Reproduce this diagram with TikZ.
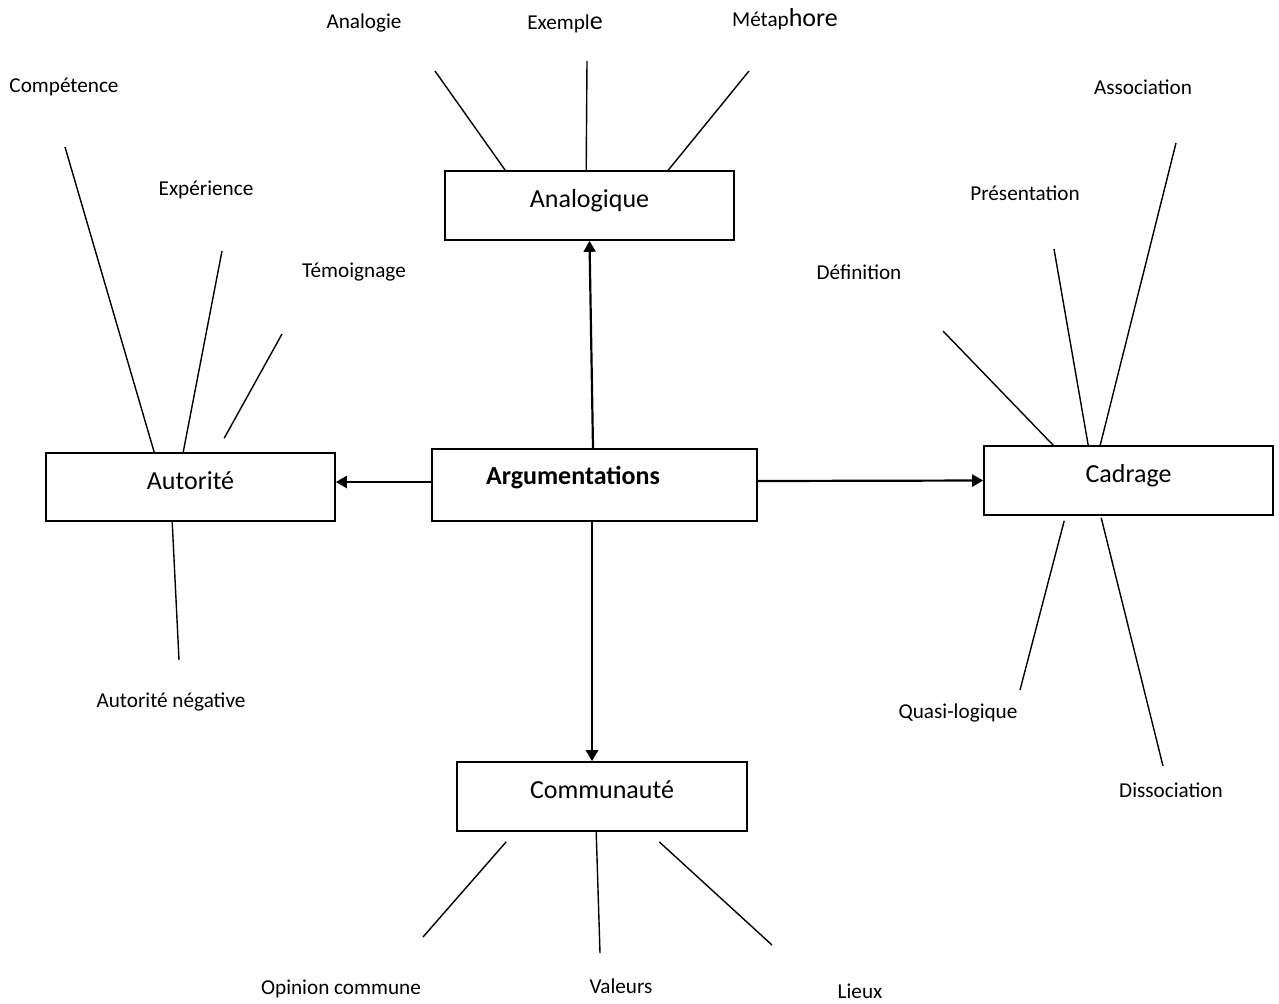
\documentclass[tikz,border=0pt]{standalone}
\usepackage{fontspec}
\setmainfont{Carlito}
\usetikzlibrary{arrows.meta,calc}

\tikzset{
  box/.style={draw, line width=0.8pt, minimum width=144.5pt, minimum height=34.5pt,
    inner sep=0pt, font=\fontsize{13}{15}\selectfont, text height=9pt, text depth=6.9pt},
  arr/.style={line width=1.1pt, -{Triangle[length=5.5pt,width=6pt]}},
  spoke/.style={line width=0.7pt},
  lbl/.style={font=\fontsize{10.6}{12}\selectfont, inner sep=0pt},
}
\newcommand{\bigger}[1]{{\fontsize{13}{15}\selectfont #1}}

\begin{document}
\begin{tikzpicture}[x=0.5pt,y=-0.5pt]
    \useasboundingbox (0,0) rectangle (1279,1003);

    % the five boxes
    \node[box, minimum width=162.5pt, minimum height=36pt, text height=8pt, text depth=8.9pt,
      font=\fontsize{13}{15}\selectfont\bfseries] (arg) at (594.5,485) {Argumentations\hspace*{21.5pt}};
    \node[box] (ana) at (589.5,205.5) {Analogique};
    \node[box, minimum height=34pt] (aut) at (190.5,487) {Autorité};
    \node[box] (cad) at (1128.5,480.5) {Cadrage};
    \node[box, minimum width=145pt] (com) at (602,796.5) {Communauté};

    % arrows out of the centre box
    \draw[arr] ([xshift=-0.75pt]arg.north) -- (ana.south);
    \draw[arr] ([yshift=1.5pt]arg.west) -- ([yshift=2.5pt]aut.east);
    \draw[arr] ([yshift=2pt]arg.east) -- (cad.west);
    \draw[arr] ([xshift=-1.25pt]arg.south) -- ([xshift=-5pt]com.north);

    % Analogique
    \node[lbl] (l-analogie) at (364,23) {Analogie};
    \node[lbl] (l-exemple) at (565,24) {Exempl\bigger{e}};
    \node[lbl] (l-metaphore) at (785,19) {Métap\bigger{hore}};
    \coordinate (p-analogie) at (435,71);
    \coordinate (p-exemple) at (587,61);
    \coordinate (p-metaphore) at (749,71);
    \draw[spoke] ($(ana.north west)+(61,0)$) -- (p-analogie);
    \draw[spoke] ($(ana.north west)+(142,0)$) -- (p-exemple);
    \draw[spoke] ($(ana.north west)+(224,0)$) -- (p-metaphore);

    % Autorite
    \node[lbl] (l-competence) at (64,87) {Compétence};
    \node[lbl] (l-experience) at (206,190) {Expérience};
    \node[lbl] (l-temoignage) at (354,272) {Témoignage};
    \node[lbl] (l-negative) at (171,702) {Autorité négative};
    \coordinate (p-competence) at (65,147);
    \coordinate (p-experience) at (222,251);
    \coordinate (p-temoignage) at (282,334);
    \coordinate (p-negative) at (179,660);
    \draw[spoke] ($(aut.north west)+(109,0)$) -- (p-competence);
    \draw[spoke] ($(aut.north west)+(138,0)$) -- (p-experience);
    \draw[spoke] ($(aut.north west)+(179,-14)$) -- (p-temoignage);
    \draw[spoke] ($(aut.south west)+(127,0)$) -- (p-negative);

    % Cadrage
    \node[lbl] (l-association) at (1143,87) {Association};
    \node[lbl] (l-presentation) at (1025,193) {Présentation};
    \node[lbl] (l-definition) at (859,272) {Définition};
    \node[lbl] (l-quasi) at (958,713) {Quasi-logique};
    \node[lbl] (l-dissociation) at (1171,790) {Dissociation};
    \coordinate (p-association) at (1176,143);
    \coordinate (p-presentation) at (1054,249);
    \coordinate (p-definition) at (943,331);
    \coordinate (p-quasi) at (1020,690);
    \coordinate (p-dissociation) at (1163,766);
    \draw[spoke] ($(cad.north west)+(117,0)$) -- (p-association);
    \draw[spoke] ($(cad.north west)+(105,0)$) -- (p-presentation);
    \draw[spoke] ($(cad.north west)+(70,0)$) -- (p-definition);
    \draw[spoke] ($(cad.south west)+(81,5)$) -- (p-quasi);
    \draw[spoke] ($(cad.south west)+(118,2)$) -- (p-dissociation);

    % Communaute
    \node[lbl] (l-opinion) at (341,989) {Opinion commune};
    \node[lbl] (l-valeurs) at (621,986) {Valeurs};
    \node[lbl] (l-lieux) at (860,991) {Lieux};
    \coordinate (p-opinion) at (423,937);
    \coordinate (p-valeurs) at (600,953);
    \coordinate (p-lieux) at (772,945);
    \draw[spoke] ($(com.south west)+(50,10)$) -- (p-opinion);
    \draw[spoke] ($(com.south west)+(140,0)$) -- (p-valeurs);
    \draw[spoke] ($(com.south west)+(203,10)$) -- (p-lieux);

\end{tikzpicture}
\end{document}
